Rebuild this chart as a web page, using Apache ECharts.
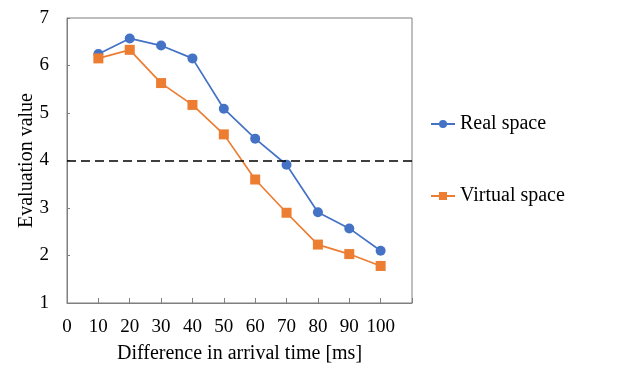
<!DOCTYPE html>
<html>
<head>
<meta charset="utf-8">
<script src="https://cdn.jsdelivr.net/npm/echarts@6/dist/echarts.min.js"></script>
<style>
  html, body { margin: 0; padding: 0; background: #fff; }
  #chart { width: 635px; height: 375px; }
</style>
</head>
<body>
<div id="chart"></div>
<script>
// arrival time differences [ms]
const delays = [10, 20, 30, 40, 50, 60, 70, 80, 90, 100]
// evaluation values
const realSpace = [6.24, 6.57, 6.42, 6.15, 5.09, 4.46, 3.91, 2.91, 2.57, 2.10]
const virtualSpace = [6.15, 6.33, 5.63, 5.17, 4.55, 3.60, 2.90, 2.23, 2.03, 1.78]
const threshold = 4

const font = 'Liberation Serif, Times New Roman, serif'
const axisGray = '#7f7f7f'

const chart = echarts.init(document.getElementById('chart'))

const option = {
  animation: false,
  textStyle: { fontFamily: font },
  grid: {
    left: 67,
    top: 18,
    right: 223,
    bottom: 72,
    show: true,
    borderColor: axisGray,
    borderWidth: 1
  },
  legend: {
    orient: 'vertical',
    left: 425,
    top: 109,
    itemGap: 52,
    itemWidth: 24,
    itemHeight: 10,
    textStyle: { fontFamily: font, fontSize: 20, color: '#000' },
    data: ['Real space', 'Virtual space']
  },
  // x轴
  xAxis: {
    type: 'value',
    min: 0,
    max: 110,
    interval: 10,
    name: 'Difference in arrival time [ms]',
    nameLocation: 'middle',
    nameGap: 41,
    nameMoveOverlap: false,
    nameTextStyle: { fontFamily: font, fontSize: 20, color: '#000' },
    splitLine: { show: false },
    axisLine: { lineStyle: { color: axisGray, width: 1 } },
    axisTick: { show: true, inside: true, length: 5, lineStyle: { color: axisGray } },
    axisLabel: {
      fontFamily: font,
      fontSize: 19,
      color: '#000',
      margin: 15,
      formatter: v => (v > 100 ? '' : String(v))
    }
  },
  // y轴
  yAxis: {
    type: 'value',
    min: 1,
    max: 7,
    interval: 1,
    name: 'Evaluation value',
    nameLocation: 'middle',
    nameGap: 30,
    nameMoveOverlap: false,
    nameTextStyle: { fontFamily: font, fontSize: 20, color: '#000' },
    splitLine: { show: false },
    axisLine: { show: true, lineStyle: { color: axisGray, width: 1 } },
    axisTick: { show: true, inside: true, length: 3, lineStyle: { color: axisGray } },
    axisLabel: { fontFamily: font, fontSize: 19, color: '#000', margin: 18 }
  },
  series: [
    {
      name: 'Real space',
      type: 'line',
      data: delays.map((d, i) => [d, realSpace[i]]),
      symbol: 'circle',
      symbolSize: 10,
      color: '#4472C4',
      lineStyle: { width: 1.7 },
      markLine: {
        silent: true,
        symbol: 'none',
        label: { show: false },
        lineStyle: { color: '#000', type: [9, 5], width: 1.5 },
        data: [{ yAxis: threshold }]
      }
    },
    {
      name: 'Virtual space',
      type: 'line',
      data: delays.map((d, i) => [d, virtualSpace[i]]),
      symbol: 'rect',
      symbolSize: 10,
      color: '#ED7D31',
      lineStyle: { width: 1.7 }
    }
  ]
}

chart.setOption(option)
</script>
</body>
</html>
